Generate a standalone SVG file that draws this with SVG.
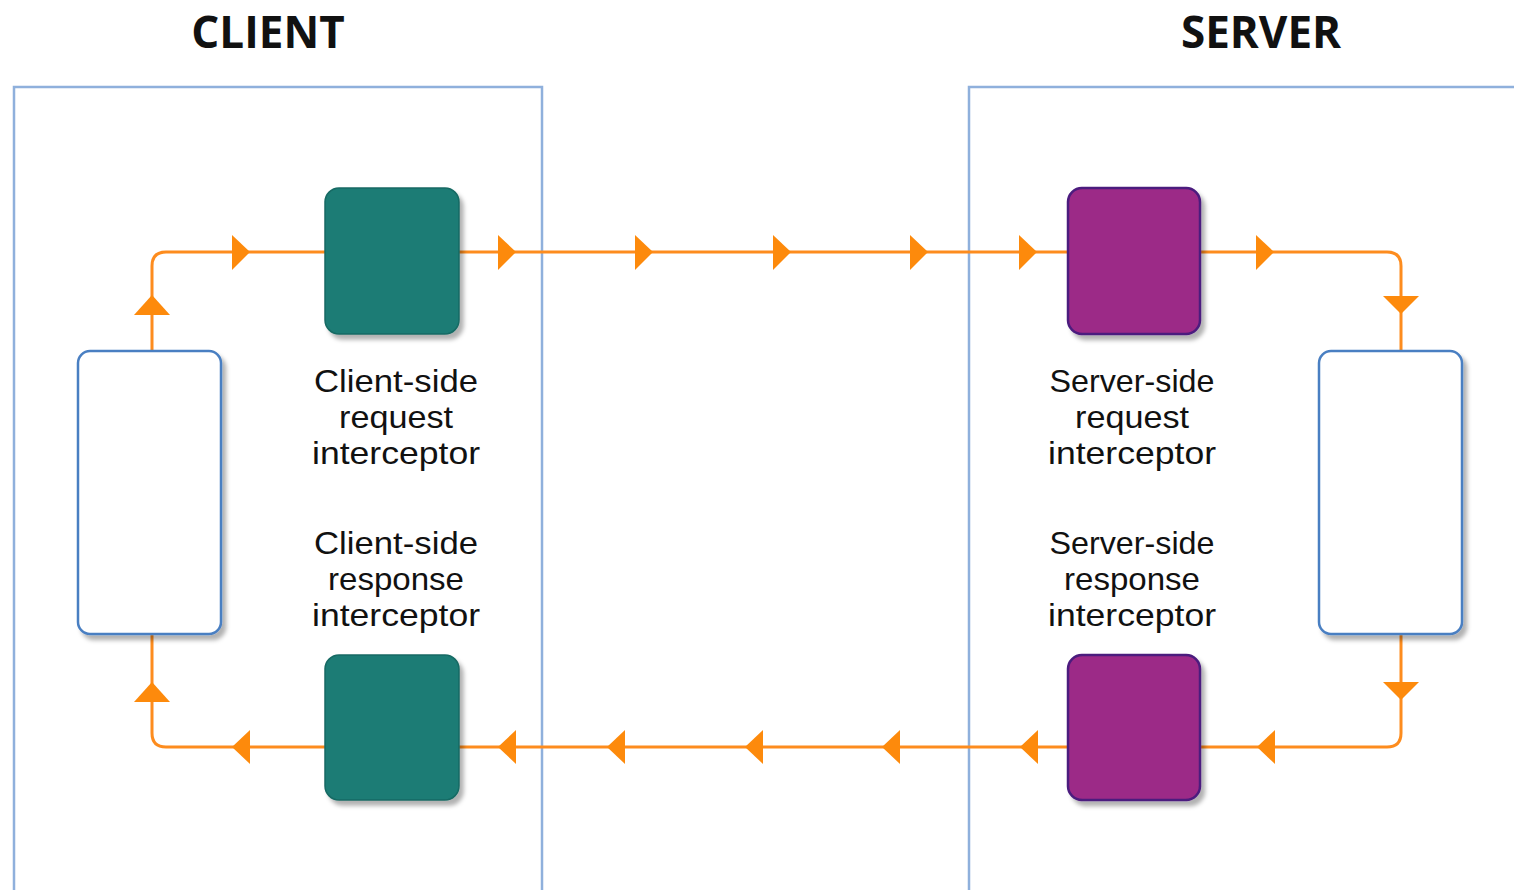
<svg xmlns="http://www.w3.org/2000/svg" width="1514" height="890" viewBox="0 0 1514 890">
<style>
.title{font-family:"Open Sans","Noto Sans",sans-serif;font-weight:bold;font-size:44px;fill:#111;text-anchor:middle}
.lbl{font-family:"Liberation Sans",Arial,sans-serif;font-size:32px;fill:#111;text-anchor:middle}
.frame{fill:none;stroke:#8fb0dc;stroke-width:2.5}
.teal{fill:#1b7b74;stroke:#176a64;stroke-width:1.5}
.purple{fill:#9c2a87;stroke:#4b1a7e;stroke-width:2.5}
.app{fill:#fff;stroke:#4a7fc2;stroke-width:2.5}
.wire{fill:none;stroke:#fd8c1e;stroke-width:3}
.ah{fill:#fd8a0c}
</style>
<defs>
<filter id="sh" x="-10%" y="-10%" width="130%" height="130%">
<feDropShadow dx="4" dy="5" stdDeviation="2" flood-color="#000" flood-opacity="0.3"/>
</filter>
</defs>
<rect width="1514" height="890" fill="#fff"/>
<g id="client">
<rect class="frame" x="14" y="87" width="528" height="820"/>
<text class="title" x="268" y="48">CLIENT</text>
</g>
<g id="server">
<rect class="frame" x="969" y="87" width="560" height="820"/>
<text class="title" x="1261" y="48">SERVER</text>
</g>
<g id="connectors">
<path class="wire" d="M152,351 V266 Q152,252 166,252 H1387 Q1401,252 1401,266 V351"/>
<path class="wire" d="M1401,634 V733 Q1401,747 1387,747 H166 Q152,747 152,733 V634"/>
<g class="ah">
<polygon points="232,235 250,252 232,270"/>
<polygon points="498,235 516,252 498,270"/>
<polygon points="635,235 653,252 635,270"/>
<polygon points="773,235 791,252 773,270"/>
<polygon points="910,235 928,252 910,270"/>
<polygon points="1019,235 1037,252 1019,270"/>
<polygon points="1256,235 1274,252 1256,270"/>
<polygon points="134,315 152,295 170,315"/>
<polygon points="1383,296 1401,314 1419,296"/>
<polygon points="1383,682 1401,700 1419,682"/>
<polygon points="134,702 152,682 170,702"/>
<polygon points="250,730 232,747 250,764"/>
<polygon points="516,730 498,747 516,764"/>
<polygon points="625,730 607,747 625,764"/>
<polygon points="763,730 745,747 763,764"/>
<polygon points="900,730 882,747 900,764"/>
<polygon points="1038,730 1020,747 1038,764"/>
<polygon points="1275,730 1257,747 1275,764"/>
</g>
</g>
<g id="client-app">
<rect class="app" x="78" y="351" width="143" height="283" rx="12" filter="url(#sh)"/>
</g>
<g id="server-app">
<rect class="app" x="1319" y="351" width="143" height="283" rx="12" filter="url(#sh)"/>
</g>
<g id="client-request-interceptor">
<rect class="teal" x="325" y="188" width="134" height="146" rx="14" filter="url(#sh)"/>
<text class="lbl" x="396" y="392" textLength="164" lengthAdjust="spacingAndGlyphs">Client-side</text>
<text class="lbl" x="396" y="428" textLength="114" lengthAdjust="spacingAndGlyphs">request</text>
<text class="lbl" x="396" y="464" textLength="168" lengthAdjust="spacingAndGlyphs">interceptor</text>
</g>
<g id="client-response-interceptor">
<rect class="teal" x="325" y="655" width="134" height="145" rx="14" filter="url(#sh)"/>
<text class="lbl" x="396" y="554" textLength="164" lengthAdjust="spacingAndGlyphs">Client-side</text>
<text class="lbl" x="396" y="590" textLength="136" lengthAdjust="spacingAndGlyphs">response</text>
<text class="lbl" x="396" y="626" textLength="168" lengthAdjust="spacingAndGlyphs">interceptor</text>
</g>
<g id="server-request-interceptor">
<rect class="purple" x="1068" y="188" width="132" height="146" rx="14" filter="url(#sh)"/>
<text class="lbl" x="1132" y="392" textLength="165" lengthAdjust="spacingAndGlyphs">Server-side</text>
<text class="lbl" x="1132" y="428" textLength="114" lengthAdjust="spacingAndGlyphs">request</text>
<text class="lbl" x="1132" y="464" textLength="168" lengthAdjust="spacingAndGlyphs">interceptor</text>
</g>
<g id="server-response-interceptor">
<rect class="purple" x="1068" y="655" width="132" height="145" rx="14" filter="url(#sh)"/>
<text class="lbl" x="1132" y="554" textLength="165" lengthAdjust="spacingAndGlyphs">Server-side</text>
<text class="lbl" x="1132" y="590" textLength="136" lengthAdjust="spacingAndGlyphs">response</text>
<text class="lbl" x="1132" y="626" textLength="168" lengthAdjust="spacingAndGlyphs">interceptor</text>
</g>
</svg>
